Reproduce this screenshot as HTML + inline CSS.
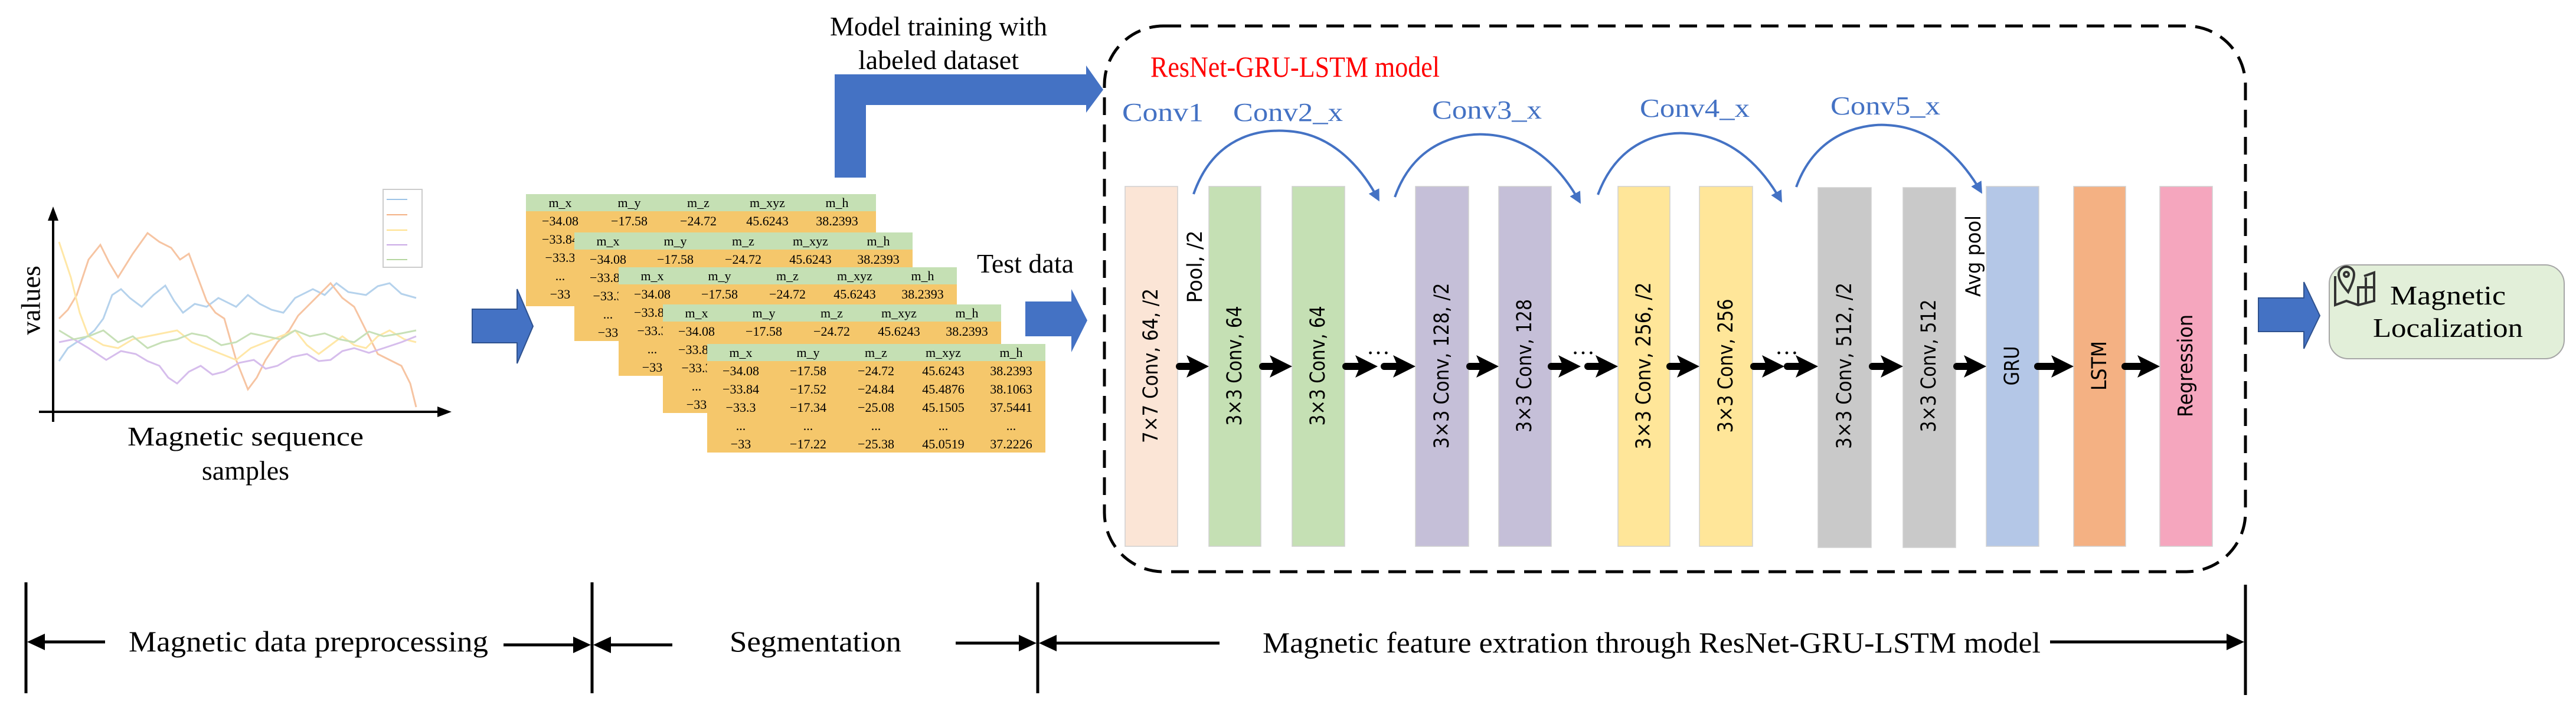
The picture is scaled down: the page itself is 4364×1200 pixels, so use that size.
<!DOCTYPE html>
<html><head><meta charset="utf-8"><style>
html,body{margin:0;padding:0;background:#fff;}
svg{display:block;}
</style></head><body>
<svg width="4364" height="1200" viewBox="0 0 4364 1200" xmlns="http://www.w3.org/2000/svg">
<defs>
<marker id="bh" viewBox="0 0 10 10" refX="8" refY="5" markerWidth="5" markerHeight="5" orient="auto" markerUnits="strokeWidth">
<path d="M0,0 L10,5 L0,10 z" fill="#4472C4"/></marker>
</defs>
<g font-family="Liberation Serif, serif">
<!-- Chart -->
<g fill="none" stroke-width="3" opacity="0.75">
<polyline stroke="#9DC3E6" points="100,612 115,590 130,580 145,572 160,560 175,540 190,500 205,490 220,505 240,520 260,500 280,484 295,510 310,530 330,515 350,520 370,505 400,520 420,500 440,515 460,525 480,530 500,505 530,490 550,500 570,480 590,495 620,500 640,485 660,480 680,498 705,505"/>
<polyline stroke="#F4B183" points="100,540 115,525 130,500 150,440 170,415 185,445 200,470 225,430 250,395 270,410 290,420 305,440 320,430 335,470 350,510 365,530 380,540 400,610 420,660 435,640 450,610 470,580 490,560 505,535 520,520 540,500 560,480 580,505 600,520 620,560 640,600 660,610 680,620 695,650 705,690"/>
<polyline stroke="#FFE08A" points="100,410 110,440 120,470 135,530 150,570 175,585 200,590 225,575 250,570 275,565 300,560 325,580 350,590 375,600 400,610 425,590 450,580 475,570 500,560 520,585 540,600 560,585 580,570 600,585 620,590 640,570 660,560 685,575 705,580"/>
<polyline stroke="#C9A8E6" points="100,580 125,575 150,590 165,600 180,610 205,595 230,600 250,612 270,620 285,640 300,650 320,630 340,620 360,635 380,630 405,615 430,610 450,625 470,620 495,605 520,600 540,612 560,610 580,595 600,590 625,598 650,590 680,580 705,570"/>
<polyline stroke="#B5D6A0" points="100,560 125,575 150,570 175,560 200,580 225,570 250,590 275,580 300,575 325,565 350,570 375,585 400,580 425,565 450,570 475,575 500,560 525,570 550,565 575,575 600,580 625,562 650,570 680,565 705,560"/>
</g>
<rect x="649" y="321" width="66" height="132" fill="#fff" stroke="#ccc" stroke-width="2"/>
<g stroke-width="2"><line x1="655" y1="338" x2="690" y2="338" stroke="#9DC3E6"/><line x1="655" y1="364" x2="690" y2="364" stroke="#F4B183"/><line x1="655" y1="390" x2="690" y2="390" stroke="#FFE08A"/><line x1="655" y1="415" x2="690" y2="415" stroke="#C9A8E6"/><line x1="655" y1="440" x2="690" y2="440" stroke="#B5D6A0"/></g>
<line x1="90" y1="360" x2="90" y2="715" stroke="#000" stroke-width="4"/>
<polygon points="90,350 81,374 99,374" fill="#000"/>
<line x1="66" y1="698" x2="750" y2="698" stroke="#000" stroke-width="4"/>
<polygon points="765,698 741,689 741,707" fill="#000"/>
<text transform="translate(52,509) rotate(-90)" text-anchor="middle" dominant-baseline="central" font-size="46">values</text>
<text x="416" y="755" text-anchor="middle" font-size="46" textLength="400" lengthAdjust="spacingAndGlyphs">Magnetic sequence</text>
<text x="416" y="813" text-anchor="middle" font-size="46">samples</text>

<!-- arrow to tables -->
<polygon points="800,524 876,524 876,490 903,553 876,616 876,581 800,581" fill="#4472C4" stroke="#2F528F" stroke-width="2"/>

<!-- L arrow -->
<polygon points="1414,301 1414,126 1840,126 1840,111 1869,152 1840,191 1840,178 1467,178 1467,301" fill="#4472C4"/>
<text x="1590" y="60" text-anchor="middle" font-size="46">Model training with</text>
<text x="1590" y="117" text-anchor="middle" font-size="46">labeled dataset</text>
<text x="1737" y="462" text-anchor="middle" font-size="46">Test data</text>
<polygon points="1737,511 1815,511 1815,490 1842,543 1815,597 1815,570 1737,570" fill="#4472C4"/>

<!-- dashed box -->
<rect x="1871" y="44" width="1933" height="925" rx="100" ry="100" fill="none" stroke="#000" stroke-width="5" stroke-dasharray="30,16"/>
<text x="1949" y="130" font-size="50" fill="#FF0000" textLength="490" lengthAdjust="spacingAndGlyphs">ResNet-GRU-LSTM model</text>
<g font-size="44" fill="#4472C4">
<text x="1901" y="205" textLength="138" lengthAdjust="spacingAndGlyphs">Conv1</text>
<text x="2089" y="205" textLength="186" lengthAdjust="spacingAndGlyphs">Conv2_x</text>
<text x="2426" y="201" textLength="186" lengthAdjust="spacingAndGlyphs">Conv3_x</text>
<text x="2778" y="198" textLength="186" lengthAdjust="spacingAndGlyphs">Conv4_x</text>
<text x="3101" y="194" textLength="186" lengthAdjust="spacingAndGlyphs">Conv5_x</text>
</g>
</g>

<!-- bars -->
<g stroke="#D0D0D0" stroke-width="1.5">
<rect x="1906" y="316" width="89" height="610" fill="#FBE5D6"/>
<rect x="2048" y="316" width="88" height="610" fill="#C5E0B4"/>
<rect x="2189" y="316" width="89" height="610" fill="#C5E0B4"/>
<rect x="2398" y="316" width="90" height="610" fill="#C5BFD8"/>
<rect x="2539" y="316" width="89" height="610" fill="#C5BFD8"/>
<rect x="2741" y="316" width="88" height="610" fill="#FFE699"/>
<rect x="2879" y="316" width="90" height="610" fill="#FFE699"/>
<rect x="3080" y="318" width="90" height="610" fill="#C9C9C9"/>
<rect x="3224" y="318" width="89" height="610" fill="#C9C9C9"/>
<rect x="3365" y="316" width="89" height="610" fill="#B4C7E7"/>
<rect x="3513" y="316" width="88" height="610" fill="#F4B183"/>
<rect x="3659" y="316" width="89" height="610" fill="#F5A6BE"/>
</g>
<g font-family="DejaVu Sans, sans-serif" font-size="35" text-anchor="middle" dominant-baseline="central" lengthAdjust="spacingAndGlyphs">
<text transform="translate(1950,620) rotate(-90)" textLength="262" lengthAdjust="spacingAndGlyphs">7×7 Conv, 64, /2</text>
<text transform="translate(2092,620) rotate(-90)" textLength="203" lengthAdjust="spacingAndGlyphs">3×3 Conv, 64</text>
<text transform="translate(2233,620) rotate(-90)" textLength="203" lengthAdjust="spacingAndGlyphs">3×3 Conv, 64</text>
<text transform="translate(2443,620) rotate(-90)" textLength="281" lengthAdjust="spacingAndGlyphs">3×3 Conv, 128, /2</text>
<text transform="translate(2583,620) rotate(-90)" textLength="226" lengthAdjust="spacingAndGlyphs">3×3 Conv, 128</text>
<text transform="translate(2785,620) rotate(-90)" textLength="283" lengthAdjust="spacingAndGlyphs">3×3 Conv, 256, /2</text>
<text transform="translate(2924,620) rotate(-90)" textLength="227" lengthAdjust="spacingAndGlyphs">3×3 Conv, 256</text>
<text transform="translate(3125,620) rotate(-90)" textLength="282" lengthAdjust="spacingAndGlyphs">3×3 Conv, 512, /2</text>
<text transform="translate(3268,620) rotate(-90)" textLength="225" lengthAdjust="spacingAndGlyphs">3×3 Conv, 512</text>
<text transform="translate(3409,620) rotate(-90)" textLength="67" lengthAdjust="spacingAndGlyphs">GRU</text>
<text transform="translate(3557,620) rotate(-90)" textLength="84" lengthAdjust="spacingAndGlyphs">LSTM</text>
<text transform="translate(3703,620) rotate(-90)" textLength="174" lengthAdjust="spacingAndGlyphs">Regression</text>
<text transform="translate(2025,452) rotate(-90)" textLength="123" lengthAdjust="spacingAndGlyphs">Pool, /2</text>
<text transform="translate(3344,434) rotate(-90)" textLength="138" lengthAdjust="spacingAndGlyphs">Avg pool</text>
</g>
<g font-family="Liberation Serif, serif" font-size="40" text-anchor="middle">
<text x="2335" y="600">…</text>
<text x="2682" y="600">…</text>
<text x="3027" y="600">…</text>
</g>
<!-- skip arcs -->
<g fill="none" stroke="#4472C4" stroke-width="4" marker-end="url(#bh)">
<path d="M2022,329 C2060,220 2150,220 2180,222 C2260,226 2310,290 2335,338"/>
<path d="M2363,334 C2400,230 2490,226 2517,228 C2600,232 2650,295 2676,342"/>
<path d="M2707,330 C2745,228 2830,224 2856,226 C2940,230 2990,292 3017,340"/>
<path d="M3043,317 C3080,215 3170,210 3197,212 C3280,216 3330,280 3356,325"/>
</g>

<!-- output arrow & box -->
<polygon points="3826,505 3903,505 3903,478 3930,535 3903,591 3903,562 3826,562" fill="#4472C4" stroke="#2F528F" stroke-width="2"/>
<rect x="3946" y="449" width="398" height="159" rx="32" fill="#E2EFD9" stroke="#A6A6A6" stroke-width="2"/>
<g fill="none" stroke="#333" stroke-width="4">
<path d="M3956,468 L3956,517 L3975,510 L3995,517 L4022,510 L4022,462 L4005,468"/>
<line x1="3995" y1="485" x2="3995" y2="517"/>
<line x1="4008" y1="470" x2="4008" y2="512"/>
<line x1="3995" y1="487" x2="4022" y2="487"/>
<path d="M3978,495 C3965,480 3962,472 3962,465 A13,13 0 0 1 3988,465 C3988,472 3985,480 3978,495 z"/>
<circle cx="3975" cy="465" r="4"/>
</g>
<g font-family="Liberation Serif, serif" font-size="46" text-anchor="middle">
<text x="4147" y="516" textLength="196" lengthAdjust="spacingAndGlyphs">Magnetic</text>
<text x="4147" y="571" textLength="254" lengthAdjust="spacingAndGlyphs">Localization</text>
</g>

<!-- bottom dimension -->
<g stroke="#000" stroke-width="5">
<line x1="44" y1="987" x2="44" y2="1175"/>
<line x1="1003" y1="987" x2="1003" y2="1175"/>
<line x1="1758" y1="987" x2="1758" y2="1175"/>
<line x1="3804" y1="991" x2="3804" y2="1178"/>
<line x1="70" y1="1088" x2="178" y2="1088"/>
<line x1="853" y1="1093" x2="975" y2="1093"/>
<line x1="1030" y1="1093" x2="1139" y2="1093"/>
<line x1="1619" y1="1090" x2="1730" y2="1090"/>
<line x1="1785" y1="1090" x2="2066" y2="1090"/>
<line x1="3473" y1="1088" x2="3776" y2="1088"/>
</g>
<g fill="#000">
<polygon points="46,1088 76,1074 76,1102"/>
<polygon points="1001,1093 971,1079 971,1107"/>
<polygon points="1005,1093 1035,1079 1035,1107"/>
<polygon points="1756,1090 1726,1076 1726,1104"/>
<polygon points="1760,1090 1790,1076 1790,1104"/>
<polygon points="3802,1088 3772,1074 3772,1102"/>
</g>
<g font-family="Liberation Serif, serif" font-size="50">
<text x="218" y="1104" textLength="609" lengthAdjust="spacingAndGlyphs">Magnetic data preprocessing</text>
<text x="1236" y="1104" textLength="291" lengthAdjust="spacingAndGlyphs">Segmentation</text>
<text x="2139" y="1106" textLength="1318" lengthAdjust="spacingAndGlyphs">Magnetic feature extration through ResNet-GRU-LSTM model</text>
</g>

<!-- tables -->
<g font-family="Liberation Serif, serif" font-size="22" text-anchor="middle">
<g transform="translate(891,329)">
<rect width="593" height="29" fill="#C5E0B4"/><rect y="29" width="593" height="161" fill="#F5C76B"/>
<text x="58" y="22">m_x</text><text x="175" y="22">m_y</text><text x="292" y="22">m_z</text><text x="409" y="22">m_xyz</text><text x="527" y="22">m_h</text>
<text x="58" y="53">−34.08</text><text x="175" y="53">−17.58</text><text x="292" y="53">−24.72</text><text x="409" y="53">45.6243</text><text x="527" y="53">38.2393</text>
<text x="58" y="84">−33.84</text><text x="58" y="115">−33.3</text><text x="58" y="146">...</text><text x="58" y="177">−33</text>
</g>
<g transform="translate(973,394)">
<rect width="573" height="29" fill="#C5E0B4"/><rect y="29" width="573" height="155" fill="#F5C76B"/>
<text x="57" y="22">m_x</text><text x="171" y="22">m_y</text><text x="286" y="22">m_z</text><text x="400" y="22">m_xyz</text><text x="515" y="22">m_h</text>
<text x="57" y="53">−34.08</text><text x="171" y="53">−17.58</text><text x="286" y="53">−24.72</text><text x="400" y="53">45.6243</text><text x="515" y="53">38.2393</text>
<text x="57" y="84">−33.84</text><text x="57" y="115">−33.3</text><text x="57" y="146">...</text><text x="57" y="177">−33</text>
</g>
<g transform="translate(1048,453)">
<rect width="573" height="29" fill="#C5E0B4"/><rect y="29" width="573" height="155" fill="#F5C76B"/>
<text x="57" y="22">m_x</text><text x="171" y="22">m_y</text><text x="286" y="22">m_z</text><text x="400" y="22">m_xyz</text><text x="515" y="22">m_h</text>
<text x="57" y="53">−34.08</text><text x="171" y="53">−17.58</text><text x="286" y="53">−24.72</text><text x="400" y="53">45.6243</text><text x="515" y="53">38.2393</text>
<text x="57" y="84">−33.84</text><text x="57" y="115">−33.3</text><text x="57" y="146">...</text><text x="57" y="177">−33</text>
</g>
<g transform="translate(1123,516)">
<rect width="573" height="29" fill="#C5E0B4"/><rect y="29" width="573" height="155" fill="#F5C76B"/>
<text x="57" y="22">m_x</text><text x="171" y="22">m_y</text><text x="286" y="22">m_z</text><text x="400" y="22">m_xyz</text><text x="515" y="22">m_h</text>
<text x="57" y="53">−34.08</text><text x="171" y="53">−17.58</text><text x="286" y="53">−24.72</text><text x="400" y="53">45.6243</text><text x="515" y="53">38.2393</text>
<text x="57" y="84">−33.84</text><text x="57" y="115">−33.3</text><text x="57" y="146">...</text><text x="57" y="177">−33</text>
</g>
<g transform="translate(1198,583)">
<rect width="573" height="29" fill="#C5E0B4"/><rect y="29" width="573" height="155" fill="#F5C76B"/>
<text x="57" y="22">m_x</text><text x="171" y="22">m_y</text><text x="286" y="22">m_z</text><text x="400" y="22">m_xyz</text><text x="515" y="22">m_h</text>
<text x="57" y="53">−34.08</text><text x="171" y="53">−17.58</text><text x="286" y="53">−24.72</text><text x="400" y="53">45.6243</text><text x="515" y="53">38.2393</text>
<text x="57" y="84">−33.84</text><text x="171" y="84">−17.52</text><text x="286" y="84">−24.84</text><text x="400" y="84">45.4876</text><text x="515" y="84">38.1063</text>
<text x="57" y="115">−33.3</text><text x="171" y="115">−17.34</text><text x="286" y="115">−25.08</text><text x="400" y="115">45.1505</text><text x="515" y="115">37.5441</text>
<text x="57" y="146">...</text><text x="171" y="146">...</text><text x="286" y="146">...</text><text x="400" y="146">...</text><text x="515" y="146">...</text>
<text x="57" y="177">−33</text><text x="171" y="177">−17.22</text><text x="286" y="177">−25.38</text><text x="400" y="177">45.0519</text><text x="515" y="177">37.2226</text>
</g>
</g>

<!-- black arrows in network -->
<g stroke="#000" stroke-width="12" stroke-linecap="round">
<line x1="1998" y1="621" x2="2022" y2="621"/>
<line x1="2139" y1="621" x2="2163" y2="621"/>
<line x1="2280" y1="621" x2="2306" y2="621"/>
<line x1="2345" y1="621" x2="2372" y2="621"/>
<line x1="2490" y1="621" x2="2513" y2="621"/>
<line x1="2628" y1="621" x2="2652" y2="621"/>
<line x1="2690" y1="621" x2="2715" y2="621"/>
<line x1="2829" y1="621" x2="2853" y2="621"/>
<line x1="2971" y1="621" x2="2997" y2="621"/>
<line x1="3028" y1="621" x2="3054" y2="621"/>
<line x1="3172" y1="621" x2="3198" y2="621"/>
<line x1="3315" y1="621" x2="3339" y2="621"/>
<line x1="3452" y1="621" x2="3486" y2="621"/>
<line x1="3600" y1="621" x2="3632" y2="621"/>
</g>
<g fill="#000">
<polygon points="2048,621 2010,602 2018,621 2010,640"/>
<polygon points="2189,621 2151,602 2159,621 2151,640"/>
<polygon points="2334,621 2296,602 2304,621 2296,640"/>
<polygon points="2398,621 2360,602 2368,621 2360,640"/>
<polygon points="2539,621 2501,602 2509,621 2501,640"/>
<polygon points="2678,621 2640,602 2648,621 2640,640"/>
<polygon points="2741,621 2703,602 2711,621 2703,640"/>
<polygon points="2879,621 2841,602 2849,621 2841,640"/>
<polygon points="3023,621 2985,602 2993,621 2985,640"/>
<polygon points="3080,621 3042,602 3050,621 3042,640"/>
<polygon points="3224,621 3186,602 3194,621 3186,640"/>
<polygon points="3365,621 3327,602 3335,621 3327,640"/>
<polygon points="3513,621 3475,602 3483,621 3475,640"/>
<polygon points="3659,621 3621,602 3629,621 3621,640"/>
</g>
</svg>
</body></html>
